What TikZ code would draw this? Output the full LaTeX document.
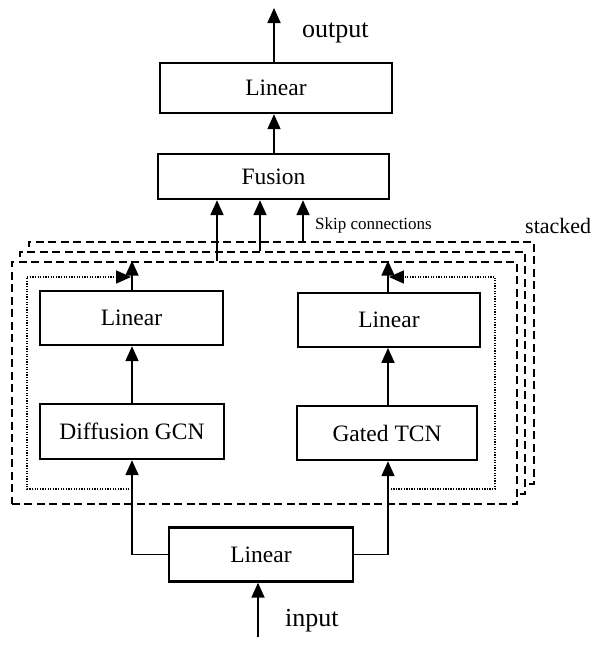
\documentclass[tikz,border=0pt]{standalone}
\usepackage{fontspec}
\setmainfont{Liberation Serif}
\usetikzlibrary{arrows.meta}

\begin{document}
\begin{tikzpicture}[x=1pt, y=-1pt,
    blk/.style={draw, line width=2.4pt, inner sep=0pt, font=\fontsize{23.5}{28}\selectfont},
    arr/.style={line width=1.8pt, -{Triangle[length=15pt,width=13pt]}},
    layer/.style={draw, fill=white, line width=1.9pt, dash pattern=on 8pt off 4.5pt,
                  minimum width=505, minimum height=242.5, anchor=north west, inner sep=0pt},
    res/.style={line width=1.4pt, dash pattern=on 1.3pt off 1.3pt, -{Triangle[length=15pt,width=13pt]}},
    lbl/.style={inner sep=0pt}]

    \useasboundingbox (0,0) rectangle (606,646);

    % stacked layers, back one first
    \foreach \i/\x/\y in {2/27.6/240.7, 1/19.3/250.7, 0/11/260.7}
        \node[layer] (L\i) at (\x,\y) {};

    % the blocks
    \node[blk, minimum width=232, minimum height=50] (linout) at (276,88) {Linear};
    \node[blk, minimum width=231, minimum height=45] (fus) at (273.5,176.5) {Fusion};
    \node[blk, minimum width=183, minimum height=54] (linL) at (131.5,318) {Linear};
    \node[blk, minimum width=182, minimum height=54] (linR) at (389,319.7) {Linear};
    \node[blk, minimum width=184, minimum height=55] (gcn) at (132,431.5) {Diffusion GCN};
    \node[blk, minimum width=180, minimum height=54] (tcn) at (387,433) {Gated TCN};
    \node[blk, minimum width=184, minimum height=54] (linin) at (261,554.5) {Linear};

    % texts
    \node[lbl, anchor=west, font=\fontsize{26}{30}\selectfont] (outtxt) at (302,33) {output};
    \node[lbl, anchor=west, font=\fontsize{26}{30}\selectfont] (intxt) at (285,621) {input};
    \node[lbl, anchor=west, font=\fontsize{17}{20}\selectfont] (skiptxt) at (315,225) {Skip connections};
    \node[lbl, anchor=base west, font=\fontsize{22}{26}\selectfont] (stacktxt) at (525,233) {stacked};

    \coordinate (out) at (274,8);
    \coordinate (in) at (258,637);
    \coordinate (cL) at (132,0);
    \coordinate (cR) at (388,0);

    % main path
    \draw[arr] (in) -- (in |- linin.south);
    \draw[arr] (out |- fus.north) -- (out |- linout.south);
    \draw[arr] (out |- linout.north) -- (out);

    % skip connections, one per layer
    \foreach \x/\l in {217/0, 260/1, 303/2}
        \draw[arr] (\x,0 |- L\l.north) -- (\x,0 |- fus.south);

    % the two branches
    \draw[arr] (linin.west) -| (cL |- gcn.south);
    \draw[arr] (linin.east) -| (cR |- tcn.south);
    \draw[arr] (cL |- gcn.north) -- (cL |- linL.south);
    \draw[arr] (cR |- tcn.north) -- (cR |- linR.south);
    \draw[arr] (cL |- linL.north) -- (cL |- L0.north);
    \draw[arr] (cR |- linR.north) -- (cR |- L0.north);

    % residual links
    \coordinate (rL1) at (27,489);
    \coordinate (rL2) at (27,277);
    \coordinate (rR1) at (495,489);
    \coordinate (rR2) at (495,277);
    \draw[res] (cL |- rL1) -- (rL1) -- (rL2) -- ([xshift=-0.9pt]cL |- rL2);
    \draw[res] (cR |- rR1) -- (rR1) -- (rR2) -- ([xshift=0.9pt]cR |- rR2);

\end{tikzpicture}
\end{document}
